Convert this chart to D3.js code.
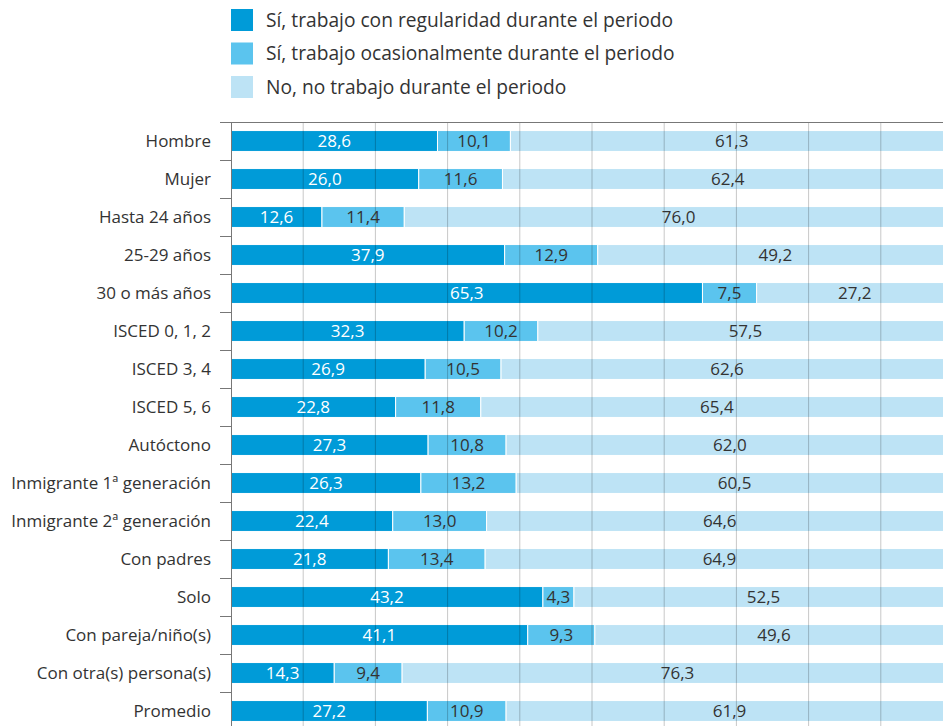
<!DOCTYPE html>
<html>
<head>
<meta charset="utf-8">
<script src="https://cdn.jsdelivr.net/npm/d3@7/dist/d3.min.js"></script>
<style>
  body { margin: 0; background: #fff; }
  text { font-family: "Open Sans", sans-serif; }
</style>
</head>
<body>
<script>
// categories, top to bottom
const categories = ["Hombre", "Mujer", "Hasta 24 años", "25-29 años", "30 o más años",
  "ISCED 0, 1, 2", "ISCED 3, 4", "ISCED 5, 6", "Autóctono", "Inmigrante 1ª generación",
  "Inmigrante 2ª generación", "Con padres", "Solo", "Con pareja/niño(s)",
  "Con otra(s) persona(s)", "Promedio"];

const seriesNames = ["Sí, trabajo con regularidad durante el periodo",
  "Sí, trabajo ocasionalmente durante el periodo",
  "No, no trabajo durante el periodo"];

const regular = [28.6, 26.0, 12.6, 37.9, 65.3, 32.3, 26.9, 22.8, 27.3, 26.3, 22.4, 21.8, 43.2, 41.1, 14.3, 27.2];
const ocasional = [10.1, 11.6, 11.4, 12.9, 7.5, 10.2, 10.5, 11.8, 10.8, 13.2, 13.0, 13.4, 4.3, 9.3, 9.4, 10.9];
const noTrabajo = [61.3, 62.4, 76.0, 49.2, 27.2, 57.5, 62.6, 65.4, 62.0, 60.5, 64.6, 64.9, 52.5, 49.6, 76.3, 61.9];

const colors = ["#009bd8", "#5bc4ee", "#bde3f5"];
const textColors = ["#ffffff", "#333333", "#333333"];

const width = 943, height = 726;
const svg = d3.select("body").append("svg")
  .attr("width", width)
  .attr("height", height);

const x = d3.scaleLinear().domain([0, 100]).range([231, 953]);
const y = d3.scaleBand().domain(categories).range([122, 122 + 38 * categories.length]).paddingInner(0.45).paddingOuter(0.225);

const rows = categories.map((c, i) => ({ cat: c, regular: regular[i], ocasional: ocasional[i], no: noTrabajo[i] }));
const stack = d3.stack().keys(["regular", "ocasional", "no"]);
const layers = stack(rows);

// legend
const legend = svg.append("g");
seriesNames.forEach((name, i) => {
  const g = legend.append("g").attr("transform", "translate(231," + (9 + i * 33.5) + ")");
  g.append("rect").attr("width", 22).attr("height", 22).attr("fill", colors[i]);
  g.append("text").attr("x", 35).attr("y", 11).attr("dy", "0.35em")
    .attr("font-size", 19.2).attr("fill", "#333").text(name);
});

// bars
layers.forEach((layer, k) => {
  const g = svg.append("g");
  g.selectAll("rect").data(layer).enter().append("rect")
    .attr("x", d => x(d[0]))
    .attr("y", d => y(d.data.cat))
    .attr("width", d => x(d[1]) - x(d[0]))
    .attr("height", y.bandwidth())
    .attr("fill", colors[k])
    .attr("stroke", "#fff")
    .attr("stroke-width", 1);
});

// grid lines on top of bars
svg.append("g").selectAll("line").data(d3.range(10, 101, 10)).enter().append("line")
  .attr("x1", d => x(d)).attr("x2", d => x(d))
  .attr("y1", 122).attr("y2", height)
  .attr("stroke", "#000").attr("stroke-opacity", 0.22).attr("stroke-width", 1);

// value labels
layers.forEach((layer, k) => {
  svg.append("g").selectAll("text").data(layer).enter().append("text")
    .attr("x", d => (x(d[0]) + x(d[1])) / 2)
    .attr("y", d => y(d.data.cat) + y.bandwidth() / 2)
    .attr("dy", "0.36em")
    .attr("text-anchor", "middle")
    .attr("font-size", 17)
    .attr("fill", textColors[k])
    .text(d => d3.format(".1f")(d[1] - d[0]).replace(".", ","));
});

// top border
svg.append("line").attr("x1", 220).attr("x2", width).attr("y1", 122.5).attr("y2", 122.5)
  .attr("stroke", "#777").attr("stroke-width", 1);

// left axis with ticks between categories
const step = y.step();
svg.append("line").attr("x1", 231.5).attr("x2", 231.5).attr("y1", 122).attr("y2", height)
  .attr("stroke", "#777").attr("stroke-width", 1);
svg.append("g").selectAll("line").data(d3.range(1, categories.length)).enter().append("line")
  .attr("x1", 220).attr("x2", 231)
  .attr("y1", i => 122 + i * step + 0.5).attr("y2", i => 122 + i * step + 0.5)
  .attr("stroke", "#777").attr("stroke-width", 1);

svg.append("g").selectAll("text").data(categories).enter().append("text")
  .attr("x", 211)
  .attr("y", d => y(d) + y.bandwidth() / 2)
  .attr("dy", "0.36em")
  .attr("text-anchor", "end")
  .attr("font-size", 17)
  .attr("fill", "#333")
  .text(d => d);
</script>
</body>
</html>
